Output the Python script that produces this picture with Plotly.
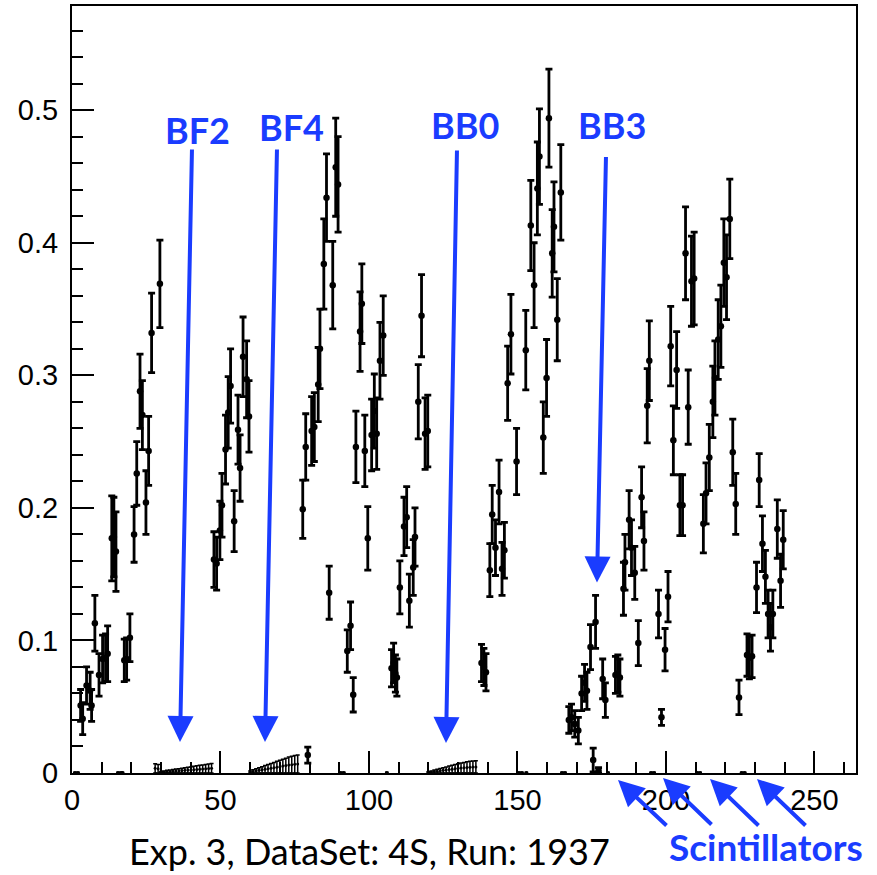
import plotly.graph_objects as go

# ---- main measured points (channel, value, error) ----
x_main = [2.9, 3.6, 4.9, 6.1, 6.6, 7.7, 9.1, 10.3, 11.3, 12.0, 13.4, 14.1, 14.8, 17.6, 18.4, 19.5,
          20.9, 21.8, 22.9, 23.7, 24.9, 25.8, 26.8, 29.6,
          47.8, 48.7, 49.8, 50.5, 51.7, 52.6, 53.4, 54.6, 55.9, 56.6, 57.6, 58.8, 59.6,
          79.4,
          77.7, 78.7, 80.7, 81.6, 82.9, 83.5, 84.8, 85.7, 86.6, 87.8, 88.8, 89.6, 92.7, 93.8, 94.7,
          95.6, 97.0, 97.6, 98.6, 99.6, 100.9, 101.8, 102.6, 103.7, 104.8,
          107.6, 108.3, 108.9, 109.4, 110.4, 111.8, 112.7, 113.6, 114.9, 115.5, 116.6, 117.7, 118.9, 119.8,
          137.9, 138.7, 139.4, 140.7, 141.5, 142.6, 143.8, 144.8, 145.6, 146.7, 147.8, 149.7, 152.8,
          154.5, 155.6, 156.7, 157.4, 158.7, 159.8, 160.6, 161.7, 162.3, 163.4, 164.6,
          167.3, 168.2, 169.3, 170.5, 171.6, 172.6, 173.4, 174.6, 175.5, 176.3, 177.3, 178.7, 179.6,
          183.0, 183.8, 184.5, 185.7, 186.2, 187.6, 188.4, 189.5, 190.7, 191.8, 192.6, 193.7, 194.4,
          197.5, 198.5, 199.7, 200.7, 201.6, 202.5, 203.6, 204.7, 205.6, 206.6, 207.5, 208.6, 209.5,
          212.6, 213.5, 214.6, 215.8, 216.5, 217.6, 218.5, 219.5, 220.4, 221.5, 222.5, 223.5, 224.6,
          227.3, 228.1, 229.0, 230.5, 231.4, 232.5, 233.5, 234.4, 235.2, 236.0, 237.5, 238.6, 239.5]
y_main = [0.051, 0.041, 0.066, 0.062, 0.051, 0.113, 0.074, 0.086, 0.087, 0.090, 0.177, 0.178, 0.167, 0.085, 0.086, 0.102,
          0.180, 0.226, 0.288, 0.270, 0.204, 0.243, 0.332, 0.369,
          0.161, 0.158, 0.183, 0.202, 0.244, 0.272, 0.292, 0.190, 0.259, 0.230, 0.314, 0.297, 0.269,
          0.0135,
          0.199, 0.246, 0.258, 0.261, 0.293, 0.320, 0.384, 0.434, 0.136, 0.368, 0.457, 0.444, 0.092, 0.111, 0.059,
          0.246, 0.333, 0.354, 0.243, 0.177, 0.255, 0.273, 0.256, 0.311, 0.330,
          0.079, 0.083, 0.075, 0.072, 0.140, 0.186, 0.193, 0.130, 0.155, 0.178, 0.280, 0.345, 0.256, 0.258,
          0.083, 0.080, 0.076, 0.153, 0.195, 0.170, 0.212, 0.154, 0.168, 0.294, 0.331, 0.235, 0.319,
          0.413, 0.368, 0.441, 0.465, 0.253, 0.298, 0.494, 0.392, 0.412, 0.342, 0.438,
          0.040, 0.042, 0.037, 0.032, 0.060, 0.068, 0.062, 0.095, 0.0098, 0.114, 0.002, 0.071, 0.055,
          0.074, 0.075, 0.072, 0.139, 0.159, 0.191, 0.170, 0.151, 0.098, 0.208, 0.175, 0.277, 0.311,
          0.120, 0.042, 0.093, 0.133, 0.322, 0.251, 0.304, 0.202, 0.202, 0.392, 0.276, 0.371, 0.373,
          0.188, 0.211, 0.238, 0.280, 0.298, 0.327, 0.337, 0.385, 0.374, 0.418, 0.242, 0.203, 0.057,
          0.089, 0.087, 0.088, 0.140, 0.221, 0.173, 0.148, 0.120, 0.110, 0.120, 0.184, 0.145, 0.176]
e_main = [0.012, 0.012, 0.014, 0.014, 0.012, 0.021, 0.016, 0.018, 0.018, 0.021, 0.032, 0.030, 0.030, 0.016, 0.016, 0.018,
          0.021, 0.024, 0.028, 0.026, 0.024, 0.026, 0.030, 0.033,
          0.021, 0.020, 0.022, 0.024, 0.026, 0.027, 0.028, 0.023, 0.026, 0.025, 0.030, 0.029, 0.027,
          0.006,
          0.022, 0.025, 0.026, 0.026, 0.028, 0.030, 0.034, 0.033, 0.020, 0.033, 0.037, 0.036, 0.016, 0.018, 0.013,
          0.027, 0.030, 0.030, 0.027, 0.024, 0.027, 0.028, 0.027, 0.029, 0.030,
          0.014, 0.015, 0.014, 0.014, 0.020, 0.022, 0.023, 0.020, 0.021, 0.022, 0.028, 0.031, 0.027, 0.027,
          0.014, 0.014, 0.014, 0.020, 0.022, 0.021, 0.024, 0.020, 0.021, 0.028, 0.030, 0.025, 0.030,
          0.034, 0.032, 0.035, 0.036, 0.027, 0.029, 0.037, 0.033, 0.034, 0.031, 0.036,
          0.010, 0.010, 0.010, 0.010, 0.013, 0.014, 0.014, 0.017, 0.009, 0.020, 0.002, 0.015, 0.013,
          0.014, 0.014, 0.014, 0.020, 0.021, 0.022, 0.021, 0.020, 0.017, 0.023, 0.022, 0.028, 0.030,
          0.018, 0.006, 0.016, 0.019, 0.030, 0.026, 0.029, 0.023, 0.023, 0.035, 0.028, 0.034, 0.035,
          0.022, 0.023, 0.025, 0.027, 0.028, 0.030, 0.031, 0.033, 0.032, 0.030, 0.025, 0.023, 0.013,
          0.016, 0.016, 0.016, 0.019, 0.020, 0.021, 0.020, 0.018, 0.018, 0.018, 0.022, 0.020, 0.022]

# ---- near-zero channels under the dead modules ----
x_bf2 = list(range(28, 48))
y_bf2 = [0.0035, 0.0032, 0.0006, 0.0008, 0.0010, 0.0011, 0.0013, 0.0015, 0.0016, 0.0018,
         0.0020, 0.0022, 0.0023, 0.0025, 0.0027, 0.0029, 0.0030, 0.0032, 0.0034, 0.0036]
x_bf4 = list(range(60, 77))
y_bf4 = [0.0008, 0.0012, 0.0016, 0.0020, 0.0024, 0.0028, 0.0032, 0.0036, 0.0040, 0.0044,
         0.0048, 0.0052, 0.0056, 0.0060, 0.0063, 0.0066, 0.0068]
x_bb0 = list(range(120, 137))
y_bb0 = [0.0005, 0.0008, 0.0011, 0.0014, 0.0017, 0.0020, 0.0023, 0.0026, 0.0029, 0.0032,
         0.0035, 0.0038, 0.0040, 0.0042, 0.0044, 0.0045, 0.0046]

# ---- empty channels (zero) ----
x_zero = [1, 2, 15.5, 16.5, 17, 90.5, 91.5, 106, 150.5, 151.5, 153, 165, 166, 177.5, 180.5,
          195, 196, 210.5, 211.5, 225.5, 226.5]
y_zero = [0.0] * len(x_zero)

labels = ["BF2", "BF4", "BB0", "BB3"]

BLUE = "#1a3cff"
L, R, T, B = 72, 856, 4, 773
W, H = 877, 875


def px(xp, yp):
    return (xp - L) / (R - L), (B - yp) / (B - T)


fig = go.Figure()

fig.add_trace(go.Scatter(
    x=x_main, y=y_main, mode="markers",
    marker=dict(color="black", size=6.5),
    error_y=dict(type="data", array=e_main, color="black", thickness=2.8, width=3.5),
    showlegend=False, cliponaxis=False))

for xs, ys in [(x_bf2, y_bf2), (x_bf4, y_bf4), (x_bb0, y_bb0)]:
    fig.add_trace(go.Scatter(
        x=xs, y=ys, mode="markers",
        marker=dict(color="black", size=3),
        error_y=dict(type="data", array=ys, color="black", thickness=1.5, width=2),
        showlegend=False))

fig.add_trace(go.Scatter(
    x=x_zero, y=y_zero, mode="markers",
    marker=dict(color="black", size=4),
    error_x=dict(type="constant", value=0.6, color="black", thickness=3, width=0),
    showlegend=False, cliponaxis=False))

# labels with arrows
label_pos = [(197, 128), (291, 125), (465, 123), (612, 123)]
arrows = [((192, 148), (180, 742)), ((277, 148), (265, 742)),
          ((457, 149), (446, 743)), ((606, 155), (597, 582))]
for lab, (lx, ly), ((tx, ty), (hx, hy)) in zip(labels, label_pos, arrows):
    xx, yy = px(lx, ly)
    fig.add_annotation(text="<b>%s</b>" % lab, x=xx, y=yy, xref="paper", yref="paper",
                       showarrow=False, xanchor="center", yanchor="middle",
                       font=dict(family="Lato", size=36, color=BLUE))
    hxp, hyp = px(hx, hy)
    fig.add_annotation(text="", x=hxp, y=hyp, xref="paper", yref="paper",
                       ax=tx - hx, ay=ty - hy, axref="pixel", ayref="pixel",
                       showarrow=True, arrowhead=2, arrowsize=1.3, arrowwidth=4,
                       arrowcolor=BLUE, standoff=0)

# scintillator arrows
sc_arrows = [((668, 827), (618, 780)), ((713, 826), (663, 778)),
             ((760, 827), (710, 779)), ((807, 827), (757, 779))]
for (tx, ty), (hx, hy) in sc_arrows:
    hxp, hyp = px(hx, hy)
    fig.add_annotation(text="", x=hxp, y=hyp, xref="paper", yref="paper",
                       ax=tx - hx, ay=ty - hy, axref="pixel", ayref="pixel",
                       showarrow=True, arrowhead=2, arrowsize=1.3, arrowwidth=4,
                       arrowcolor=BLUE, standoff=0)

xx, yy = px(766, 847)
fig.add_annotation(text="<b>Scintillators</b>", x=xx, y=yy, xref="paper", yref="paper",
                   showarrow=False, xanchor="center", yanchor="middle",
                   font=dict(family="Lato", size=37, color=BLUE))
xx, yy = px(369, 851)
fig.add_annotation(text="Exp. 3, DataSet: 4S, Run: 1937", x=xx, y=yy, xref="paper", yref="paper",
                   showarrow=False, xanchor="center", yanchor="middle",
                   font=dict(family="Lato", size=36, color="black"))

axis_common = dict(showgrid=False, zeroline=False, showline=True, linecolor="black", linewidth=2,
                   mirror=True, ticks="inside", tickcolor="black", tickwidth=2, ticklen=22,
                   tickfont=dict(family="Liberation Sans", size=29, color="black"))

fig.update_xaxes(range=[0, 264], dtick=50, tick0=0,
                 minor=dict(dtick=10, ticks="inside", ticklen=11, tickcolor="black", tickwidth=2),
                 **axis_common)
fig.update_yaxes(range=[0, 0.5786], dtick=0.1, tick0=0,
                 minor=dict(dtick=0.02, ticks="inside", ticklen=11, tickcolor="black", tickwidth=2),
                 ticklabelstandoff=6, **axis_common)

fig.update_layout(width=W, height=H, margin=dict(l=L, r=W - R, t=T, b=H - B),
                  paper_bgcolor="white", plot_bgcolor="white", hovermode=False)

fig.write_html("out.html", config={"displayModeBar": False},
               post_script="document.body.style.margin='0';document.body.style.padding='0';")
